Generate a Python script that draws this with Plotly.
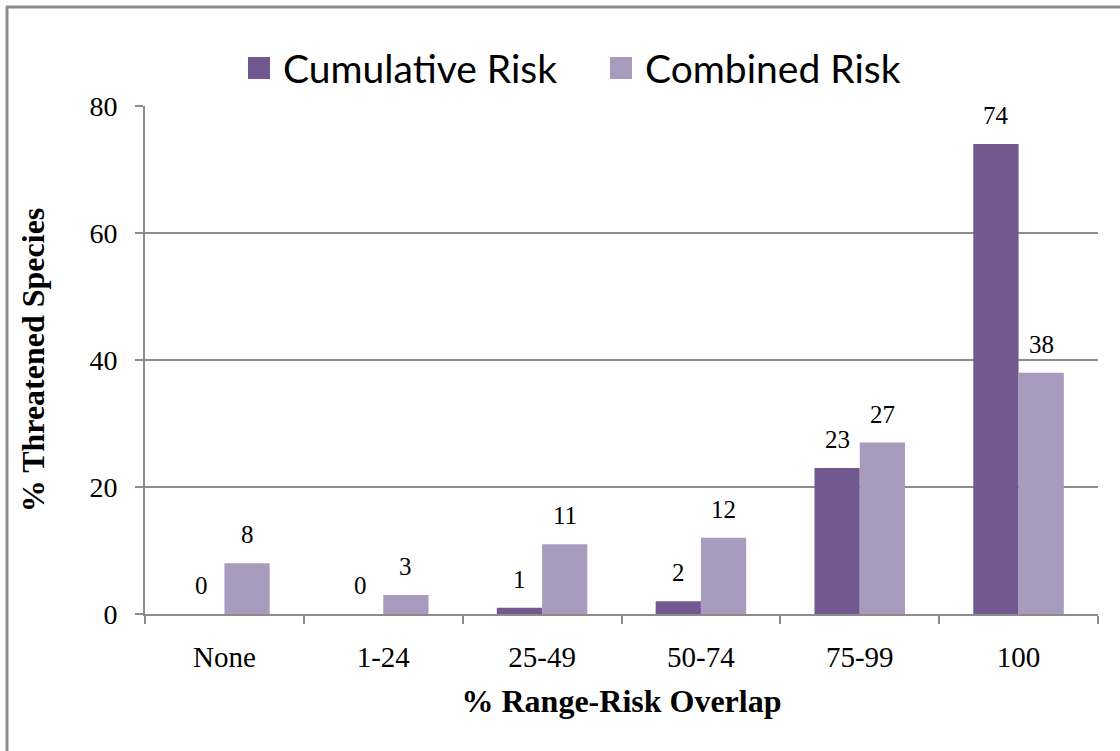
import plotly.graph_objects as go

# Share of threatened species by percentage of range overlapping risk areas
categories = ["None", "1-24", "25-49", "50-74", "75-99", "100"]
cumulative_risk = [0, 0, 1, 2, 23, 74]
combined_risk = [8, 3, 11, 12, 27, 38]
series_names = ["Cumulative Risk", "Combined Risk"]
y_ticks = [0, 20, 40, 60, 80]

DARK = "#71598F"
LIGHT = "#A99BBE"
GRID = "#8C8C8C"

W, H = 1120, 751
ML, MR, MT, MB = 145, 22, 106, 137
PW, PH = W - ML - MR, H - MT - MB


def px_x(x):
    return (x - ML) / PW


def px_y(y):
    return (H - MB - y) / PH


fig = go.Figure()
for name, vals, color in [(series_names[0], cumulative_risk, DARK),
                          (series_names[1], combined_risk, LIGHT)]:
    fig.add_trace(go.Bar(
        name=name, x=categories, y=vals, marker_color=color,
        marker_line_width=0, showlegend=False,
    ))

bargap = 0.43
half = (1 - bargap) / 4  # offset of each bar centre from the category centre
serif = "Liberation Serif"

annotations = []
for i in range(len(categories)):
    for vals, off in [(cumulative_risk, -half), (combined_risk, half)]:
        annotations.append(dict(
            x=i + off, y=vals[i], xref="x", yref="y",
            text=str(round(vals[i])), showarrow=False,
            yanchor="bottom", yshift=13,
            font=dict(family=serif, size=25, color="#000"),
        ))

# Legend drawn as coloured squares with labels
legend_items = [(series_names[0], DARK, 248), (series_names[1], LIGHT, 610)]
shapes = []
for name, color, x0 in legend_items:
    shapes.append(dict(type="rect", xref="paper", yref="paper",
                       x0=px_x(x0), x1=px_x(x0 + 22), y0=px_y(79), y1=px_y(57),
                       fillcolor=color, line_width=0))
    annotations.append(dict(
        x=px_x(x0 + 33), y=px_y(68), xref="paper", yref="paper",
        xanchor="left", yanchor="middle", text=name, showarrow=False,
        font=dict(family="Lato", size=39, color="#000"),
    ))

# Outer frame (left and top edges)
shapes.append(dict(type="line", xref="paper", yref="paper",
                   x0=px_x(7), x1=px_x(7), y0=px_y(7), y1=px_y(H + 5),
                   line=dict(color=GRID, width=3)))
shapes.append(dict(type="line", xref="paper", yref="paper",
                   x0=px_x(6), x1=px_x(W + 5), y0=px_y(7), y1=px_y(7),
                   line=dict(color=GRID, width=3)))

fig.update_layout(
    width=W, height=H,
    margin=dict(l=ML, r=MR, t=MT, b=MB),
    paper_bgcolor="white", plot_bgcolor="white",
    barmode="group", bargap=bargap, bargroupgap=0,
    annotations=annotations, shapes=shapes,
    showlegend=False,
)
fig.update_xaxes(
    type="category",
    showline=True, linecolor=GRID, linewidth=2,
    ticks="outside", tickson="boundaries", ticklen=8, tickcolor=GRID, tickwidth=2,
    ticklabelstandoff=16,
    tickfont=dict(family=serif, size=29, color="#000"),
    title=dict(text="<b>% Range-Risk Overlap</b>",
               font=dict(family=serif, size=32, color="#000"), standoff=18),
    showgrid=False,
)
fig.update_yaxes(
    range=[0, 80], tickvals=y_ticks,
    showline=True, linecolor=GRID, linewidth=2,
    ticks="outside", ticklen=8, tickcolor=GRID, tickwidth=2,
    ticklabelstandoff=12,
    showgrid=True, gridcolor=GRID, gridwidth=2,
    zeroline=False,
    tickfont=dict(family=serif, size=28, color="#000"),
    title=dict(text="<b>% Threatened Species</b>",
               font=dict(family=serif, size=32, color="#000"), standoff=35),
)

fig.write_html("out.html")
